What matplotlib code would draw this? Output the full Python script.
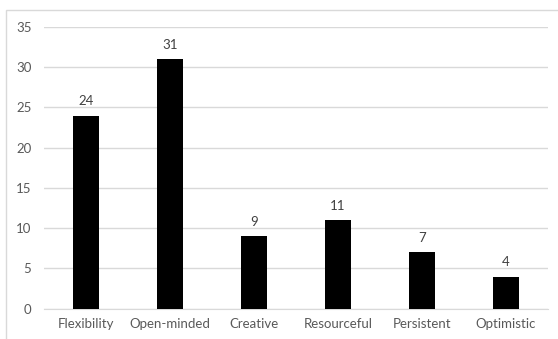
import matplotlib
matplotlib.use("Agg")
import matplotlib.pyplot as plt
from matplotlib.patches import Rectangle

categories = ["Flexibility", "Open-minded", "Creative", "Resourceful", "Persistent", "Optimistic"]
counts = [24, 31, 9, 11, 7, 4]
y_ticks = [0, 5, 10, 15, 20, 25, 30, 35]

plt.rcParams['font.family'] = ['Lato', 'DejaVu Sans']
W, H = 558, 339
fig = plt.figure(figsize=(W / 100, H / 100), dpi=100)

# chart-area frame
fig.patches.append(Rectangle((6 / W, -0.1), 1.2, 1.1 - 10 / H,
                             transform=fig.transFigure, fill=False,
                             edgecolor='#d9d9d9', linewidth=1.0))

ax = fig.add_axes([44 / W, 1 - 308.7 / H, (548 - 44) / W, (308.7 - 27) / H])
x = list(range(len(categories)))
ax.bar(x, counts, width=0.31, color='black', zorder=3)
for xi, v in zip(x, counts):
    ax.annotate(str(v), (xi, v), xytext=(0, 6), textcoords='offset points',
                ha='center', va='bottom', fontsize=9.5, color='#404040')

ax.set_xlim(-0.5, len(categories) - 0.5)
ax.set_ylim(0, 35)
ax.set_yticks(y_ticks)
ax.set_xticks(x)
ax.set_xticklabels(categories)
ax.yaxis.grid(True, color='#d9d9d9', linewidth=1.0, zorder=0)
for s in ['top', 'right', 'left']:
    ax.spines[s].set_visible(False)
ax.spines['bottom'].set_color('#d9d9d9')
ax.tick_params(axis='both', length=0, labelsize=9.5, labelcolor='#595959')
ax.tick_params(axis='y', pad=9)
ax.tick_params(axis='x', pad=7)

fig.savefig("out.png", dpi=100)
